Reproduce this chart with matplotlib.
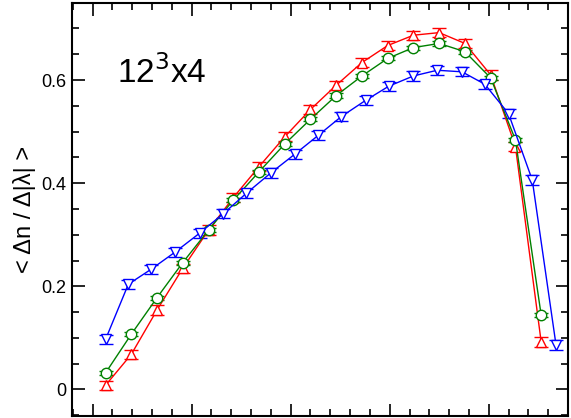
import matplotlib
matplotlib.use("Agg")
import matplotlib.pyplot as plt
from matplotlib.ticker import MultipleLocator

plt.rcParams['font.family'] = ['Liberation Sans', 'DejaVu Sans']

# red / green series share the same bins
x_rg = [0.013, 0.039, 0.065, 0.091, 0.117, 0.142, 0.168, 0.194, 0.220,
        0.246, 0.272, 0.298, 0.324, 0.350, 0.376, 0.402, 0.427, 0.453]
y_red = [0.008, 0.068, 0.154, 0.235, 0.309, 0.372, 0.432, 0.490, 0.543,
         0.590, 0.634, 0.667, 0.687, 0.692, 0.671, 0.610, 0.471, 0.092]
y_green = [0.032, 0.107, 0.178, 0.246, 0.309, 0.367, 0.422, 0.476, 0.524,
           0.570, 0.608, 0.642, 0.663, 0.671, 0.655, 0.604, 0.484, 0.144]

x_blue = [0.013, 0.036, 0.059, 0.083, 0.108, 0.132, 0.155, 0.180, 0.204, 0.228,
          0.251, 0.276, 0.299, 0.324, 0.348, 0.373, 0.396, 0.420, 0.444, 0.468]
y_blue = [0.097, 0.204, 0.233, 0.266, 0.303, 0.341, 0.380, 0.420, 0.456, 0.493,
          0.529, 0.561, 0.588, 0.608, 0.619, 0.616, 0.592, 0.535, 0.406, 0.086]

err_red = 0.009
err_green = 0.004
err_blue = 0.009

fig = plt.figure(figsize=(5.71, 4.18), dpi=100)
ax = fig.add_axes([0.1266, 0.0055, 0.868, 0.988])

style = dict(ms=7.5, mfc='white', lw=1.0, capsize=4.8, elinewidth=1.0, mew=1.0)
ax.errorbar(x_rg, y_red, yerr=err_red, color='#ff0000', marker='^', mec='#ff0000', **style)
ax.errorbar(x_rg, y_green, yerr=err_green, color='#008000', marker='o', mec='#008000', **style)
ax.errorbar(x_blue, y_blue, yerr=err_blue, color='#0000ff', marker='v', mec='#0000ff', **style)

ax.set_xlim(-0.0206, 0.48)
ax.set_ylim(-0.051, 0.75)
ax.xaxis.set_major_locator(MultipleLocator(0.1))
ax.xaxis.set_minor_locator(MultipleLocator(0.02))
ax.yaxis.set_minor_locator(MultipleLocator(0.05))
ax.set_yticks([0, 0.2, 0.4, 0.6])
ax.set_yticklabels(['0', '0.2', '0.4', '0.6'])
ax.set_xticklabels([])
ax.tick_params(which='both', direction='in', top=True, right=True, width=1.2)
ax.tick_params(which='major', length=9, labelsize=13, pad=4)
ax.tick_params(which='minor', length=5)
for s in ax.spines.values():
    s.set_linewidth(1.5)

ax.set_ylabel('< Δn / Δ|λ| >', fontsize=17, labelpad=4)
ax.text(0.09, 0.83, '12$^3$x4', transform=ax.transAxes, fontsize=24,
        ha='left', va='center')

fig.savefig('out.png', dpi=100)
